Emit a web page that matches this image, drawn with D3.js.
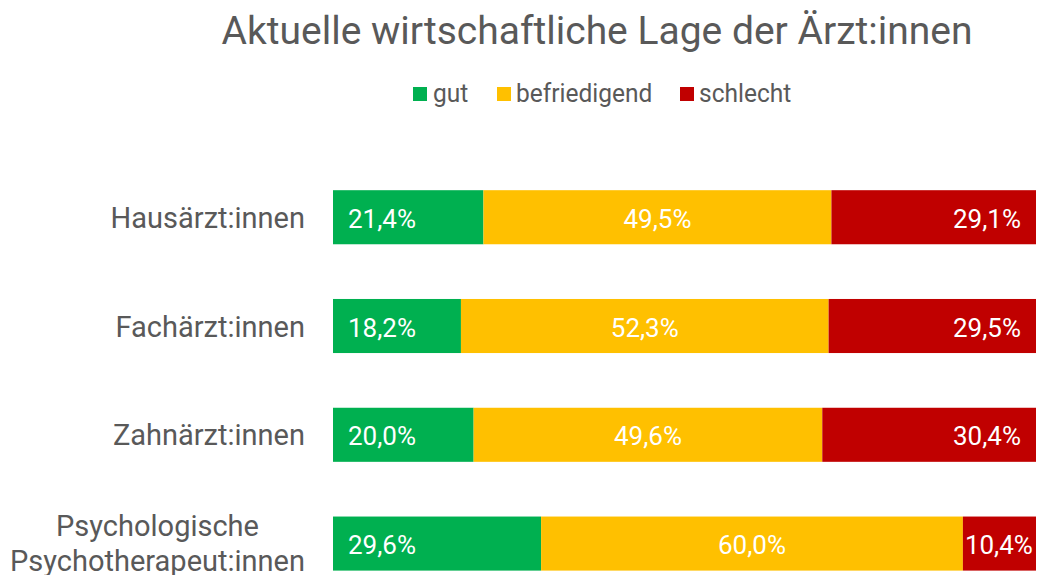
<!DOCTYPE html>
<html><head><meta charset="utf-8">
<script src="https://cdn.jsdelivr.net/npm/d3@7"></script>
<style>
html,body{margin:0;padding:0;background:#fff;}
svg text{font-family:Roboto,"DejaVu Sans",sans-serif;}
</style></head>
<body>
<svg id="chart" width="1038" height="575"></svg>
<script>
const title = "Aktuelle wirtschaftliche Lage der Ärzt:innen";
const categories = ["Hausärzt:innen", "Fachärzt:innen", "Zahnärzt:innen", "Psychologische\nPsychotherapeut:innen"];
const seriesNames = ["gut", "befriedigend", "schlecht"];
const gut = [21.4, 18.2, 20.0, 29.6];
const befriedigend = [49.5, 52.3, 49.6, 60.0];
const schlecht = [29.1, 29.5, 30.4, 10.4];
const colors = ["#00B050", "#FFC000", "#C00000"];

const textColor = "#595959";
const condense = 1.0;
const svg = d3.select("#chart");

const x = d3.scaleLinear().domain([0, 100]).range([333, 1036]);
const y = d3.scaleBand().domain(categories).range([163, 597.8]).paddingInner(0.503).paddingOuter(0.25);

const rows = categories.map((c, i) => ({cat: c, vals: [gut[i], befriedigend[i], schlecht[i]]}));
const fmt = v => v.toFixed(1).replace(".", ",") + "%";

// Title
svg.append("text").attr("x", 0).attr("y", 0)
  .attr("transform", `translate(597,44) scale(${condense},1)`)
  .attr("text-anchor", "middle").attr("fill", textColor)
  .attr("font-size", 39).text(title);

// Legend
const legendItems = [{x: 413, tx: 433}, {x: 497, tx: 516}, {x: 680, tx: 699}];
seriesNames.forEach((s, i) => {
  const g = svg.append("g");
  g.append("rect").attr("x", legendItems[i].x).attr("y", 87).attr("width", 14).attr("height", 14).attr("fill", colors[i]);
  g.append("text").attr("transform", `translate(${legendItems[i].tx},102) scale(0.98,1)`)
    .attr("fill", textColor).attr("font-size", 25).text(s);
});

// Bars
rows.forEach(r => {
  let acc = 0;
  const g = svg.append("g");
  r.vals.forEach((v, j) => {
    const x0 = x(acc), x1 = x(acc + v);
    acc += v;
    g.append("rect").attr("x", x0).attr("y", y(r.cat)).attr("width", x1 - x0).attr("height", y.bandwidth()).attr("fill", colors[j]);
    const cy = y(r.cat) + y.bandwidth() / 2 + 10.5;
    const t = g.append("text").attr("fill", "#fff").attr("font-size", 26).text(fmt(v));
    if (j === 0) {
      t.attr("transform", `translate(${x0 + 15},${cy}) scale(${condense},1)`).attr("text-anchor", "start");
    } else if (j === 1) {
      t.attr("transform", `translate(${(x0 + x1) / 2},${cy}) scale(${condense},1)`).attr("text-anchor", "middle");
    } else {
      const w = t.node().getComputedTextLength() * condense;
      const xe = Math.max(x1 - 15, Math.min(x1 - 3, x0 + w + 2));
      t.attr("transform", `translate(${xe},${cy}) scale(${condense},1)`).attr("text-anchor", "end");
    }
  });
});

// Category labels
rows.forEach(r => {
  const lines = r.cat.split("\n");
  const cy = y(r.cat) + y.bandwidth() / 2;
  if (lines.length === 1) {
    svg.append("text").attr("transform", `translate(305,${cy + 10.7}) scale(${condense},1)`)
      .attr("text-anchor", "end").attr("fill", textColor).attr("font-size", 29).text(lines[0]);
  } else {
    const t = svg.append("text").attr("fill", textColor).attr("font-size", 29).attr("text-anchor", "middle");
    const tmp = svg.append("text").attr("font-size", 29).text(lines[1]);
    const w = tmp.node().getComputedTextLength() * condense; tmp.remove();
    t.attr("transform", `translate(${305 - w / 2},${cy - 8}) scale(${condense},1)`);
    lines.forEach((l, k) => t.append("tspan").attr("x", 0).attr("dy", k === 0 ? 0 : 35).text(l));
  }
});
</script>
</body></html>
